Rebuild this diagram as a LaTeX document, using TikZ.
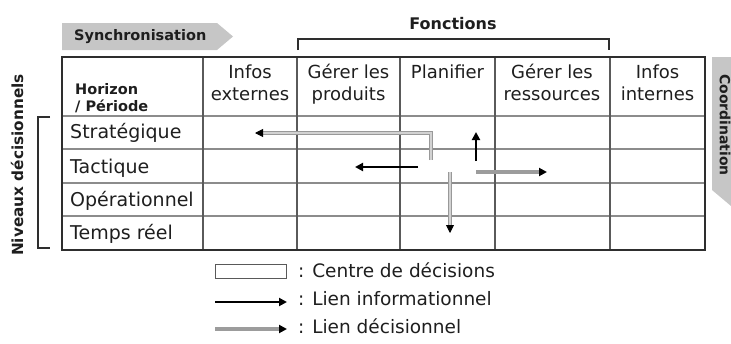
\documentclass[tikz,border=0pt]{standalone}
\usepackage{fontspec}
\setmainfont{DejaVu Sans}
\usetikzlibrary{arrows.meta}
\definecolor{bandgray}{HTML}{C6C6C6}
\definecolor{gridgray}{HTML}{8C8C8C}
\definecolor{vgray}{HTML}{5A5A5A}
\definecolor{framegray}{HTML}{2E2E2E}
\definecolor{linkgray}{HTML}{9C9C9C}
\definecolor{textdark}{HTML}{1E1E1E}
\tikzset{
  cellfont/.style={font=\fontsize{19}{22}\selectfont, text=textdark},
  headfont/.style={font=\fontsize{18}{22}\selectfont, text=textdark, align=center, inner sep=0pt},
  boldlabel/.style={font=\fontsize{#1}{17}\selectfont\bfseries, text=textdark, inner sep=0pt},
  rowlabel/.style={cellfont, anchor=base west, inner sep=0pt},
  infolink/.style={line width=2.4pt, black, -{Triangle[length=8pt,width=8pt]}},
  declink/.style={line width=3.4pt, linkgray, -{Triangle[length=8pt,width=8pt,color=black]}},
  declinkd/.style={draw=gray!80, line width=0.9pt, double=gray!35, double distance=1.6pt, -{Triangle[length=8pt,width=8pt,color=black]}},
  inner/.style={gridgray, line width=1.3pt},
  innerv/.style={vgray, line width=1.2pt},
  legendfont/.style={font=\fontsize{18.5}{22}\selectfont, text=textdark, anchor=base west, inner sep=0pt},
}
\begin{document}
\begin{tikzpicture}[x=1pt,y=-1pt]
\useasboundingbox (0,0) rectangle (731,343);
% Synchronisation band
\fill[bandgray] (62,23) -- (217,23) -- (233,36.5) -- (217,50) -- (62,50) -- cycle;
\node[boldlabel=14.5, anchor=west] (sync) at (74,37) {Synchronisation};
% Fonctions bracket
\node[boldlabel=16] (fonc) at (453,24) {Fonctions};
\draw[framegray, line width=1.4pt] (298,50) |- (609,39) -- (609,50);
% Coordination band
\fill[bandgray] (712,57) -- (731,57) -- (731,206) -- (712,190) -- cycle;
\node[boldlabel=14, rotate=-90] (coord) at (725,125) {Coordination};
% Niveaux decisionnels
\node[boldlabel=15.3, rotate=90] (niv) at (17,165) {Niveaux décisionnels};
\draw[framegray, line width=1.4pt] (50,117) -- (38,117) -- (38,248) -- (50,248);
% Table grid
\foreach \yy in {116,149,183,216} \draw[inner] (62,\yy) -- (705,\yy);
\foreach \xx in {203,297,400,495,610} \draw[innerv] (\xx,57) -- (\xx,250);
\draw[framegray, line width=2pt] (62,57) rectangle (705,250);
% Header
\node[boldlabel=14.5, anchor=base west, align=left] (hor) at (75,111) {Horizon\\/ Période};
\node[headfont, anchor=base] (h1) at (250,100.5) {Infos\\externes};
\node[headfont, anchor=base] (h2) at (348.5,100.5) {Gérer les\\produits};
\node[headfont, anchor=base] (h3) at (447.5,78.5) {Planifier};
\node[headfont, anchor=base] (h4) at (552,100.5) {Gérer les\\ressources};
\node[headfont, anchor=base] (h5) at (657.5,100.5) {Infos\\internes};
% Row labels
\node[rowlabel] (r1) at (70,138.5) {Stratégique};
\node[rowlabel] (r2) at (70,173) {Tactique};
\node[rowlabel] (r3) at (70,206) {Opérationnel};
\node[rowlabel] (r4) at (70,239.5) {Temps réel};
% Links
\coordinate (g1s) at (431,160);
\coordinate (g1m) at (431,133);
\coordinate (g1e) at (255,133);
\draw[declinkd] (g1s) -- (g1m) -- (g1e);
\coordinate (b1s) at (418,167);
\coordinate (b1e) at (355,167);
\draw[infolink] (b1s) -- (b1e);
\coordinate (b2s) at (476,161);
\coordinate (b2e) at (476,132);
\draw[infolink] (b2s) -- (b2e);
\coordinate (g2s) at (476,172);
\coordinate (g2e) at (547,172);
\draw[declink] (g2s) -- (g2e);
\coordinate (g3s) at (450,172);
\coordinate (g3e) at (450,233);
\draw[declinkd] (g3s) -- (g3e);
% Legend
\node[draw=gray!70!black, line width=1pt, minimum width=71pt, minimum height=14pt, inner sep=0pt] (legbox) at (250.5,271) {};
\node[legendfont] (leg1) at (298,277) {: Centre de décisions};
\coordinate (la1) at (215,302);
\coordinate (la2) at (287,302);
\draw[infolink] (la1) -- (la2);
\node[legendfont] (leg2) at (298,305) {: Lien informationnel};
\coordinate (lb1) at (215,329);
\coordinate (lb2) at (287,329);
\draw[declink] (lb1) -- (lb2);
\node[legendfont] (leg3) at (298,333) {: Lien décisionnel};
\end{tikzpicture}
\end{document}
